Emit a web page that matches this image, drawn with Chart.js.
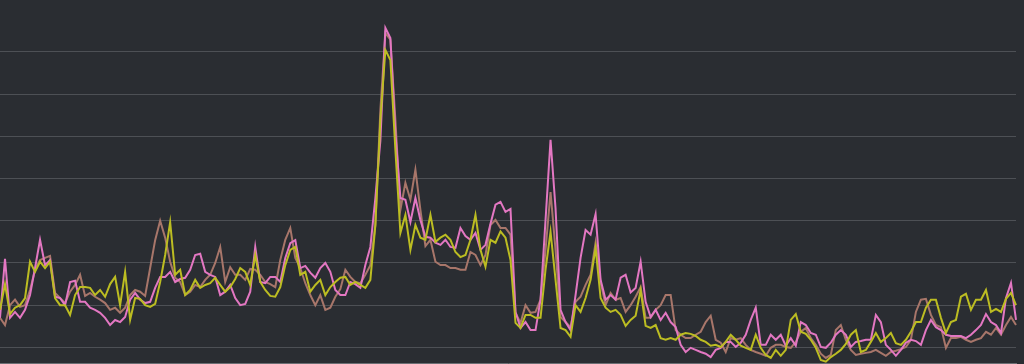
<!DOCTYPE html>
<html>
<head>
<meta charset="utf-8">
<script src="https://cdn.jsdelivr.net/npm/chart.js@4.4.1/dist/chart.umd.min.js"></script>
<style>
  html, body { margin:0; padding:0; background:#2a2d32; }
  #grafico { display:block; }
</style>
</head>
<body>
<canvas id="grafico" width="1024" height="364"></canvas>
<script>
// valores, um ponto a cada ~5px
const rosa = [
  7, 21, 7, 8.4, 7, 8.9, 12.4, 18.8, 25.5, 19.5,
  20.7, 12, 11.7, 10, 15.5, 15.8, 10.8, 10.8, 9.4, 8.9,
  8.2, 7, 5.3, 6.5, 6, 7.2, 11.3, 12.9, 11.3, 10.5,
  10.8, 14.1, 16.7, 16.7, 17.9, 15.5, 16.2, 16.5, 18.4, 21.9,
  22.2, 17.9, 17.2, 16.7, 12.4, 13.2, 14.8, 11.7, 10, 10.3,
  13.2, 23.8, 15.5, 15.2, 16.7, 16.7, 15.5, 21.2, 24.7, 25.4,
  18.8, 19.3, 17.7, 16.5, 18.8, 20, 17.9, 13.6, 12.4, 12.4,
  15.5, 15, 14.1, 19.5, 23.8, 35.4, 49, 75.7, 73.3, 50.8,
  35.4, 35, 29.7, 35.4, 30.2, 26.2, 26, 24.8, 24.3, 25.5,
  23.8, 23.6, 28.3, 26.4, 25.5, 27.1, 23.1, 24.3, 29.3, 33.8,
  34.5, 32.1, 32.8, 8.4, 4.6, 6, 4.1, 4.1, 11.3, 30.2,
  49.2, 32.9, 8.9, 6, 4.1, 12.4, 21.2, 27.8, 26.7, 31.6,
  16, 11.3, 12.4, 11.3, 16.5, 17.2, 13, 14.1, 20.3, 10.8,
  7.2, 8.9, 6.5, 8.2, 6, 4.8, 0.6, -1.1, -0.1, -0.6,
  -1.1, -1.5, -2.3, -0.6, -0.1, 1.3, 1.3, 0.1, 1.1, 3,
  6.5, 9.4, 0.6, 0.6, 3, 1.8, 3, 0.4, 2.2, 0.4,
  6, 5.3, 3.4, 3, 0.1, -0.1, 1.1, 3, 4.1, 3,
  0.1, 1.3, 1.5, 1.8, 1.8, 7.7, 6, 0.6, -0.6, -2,
  -0.6, 1.1, 1.8, 1.5, 0.6, 4.1, 6.5, 4.8, 4.1, 3,
  2.7, 2.7, 2.7, 2.2, 3, 4.1, 5.3, 7.9, 6, 5.3,
  3.4, 11.7, 15.3, 6.5
];
const marrom = [
  7, 5.3, 10, 11.3, 9.6, 10, 13.6, 18.4, 20.7, 21.2,
  21.7, 12.9, 11.7, 10.5, 13.2, 14.8, 17.2, 12.2, 12.9, 12,
  11.3, 10.5, 8.9, 9.4, 8.2, 9.4, 12.4, 13.6, 13.2, 12.2,
  18.8, 25.4, 30, 26, 20.3, 16.5, 15.5, 12.4, 13.2, 14.8,
  14.3, 16, 17.2, 20, 23.8, 15.5, 19, 17.2, 17.2, 16,
  18.6, 18.4, 17.2, 15.5, 15, 14.3, 20.7, 25.5, 28.3, 21.2,
  18.8, 15.2, 12.4, 10, 12.4, 8.9, 9.4, 12, 13.8, 18.4,
  16.7, 15.5, 15.2, 17.2, 19.5, 29, 56.3, 74.5, 72.9, 53.9,
  32.6, 39, 35, 42.1, 32.6, 24, 25.5, 20.3, 19.5, 19.5,
  18.8, 18.8, 18.4, 18.4, 22.6, 21.9, 19.5, 21.9, 29, 30.2,
  28.3, 28.3, 26.7, 8.2, 5.8, 10, 8.2, 8.4, 11.3, 23.1,
  36.8, 23.1, 7.2, 6, 4.8, 10.8, 12, 14.8, 17.2, 24.8,
  15.5, 10, 12.9, 11.3, 11.7, 8.4, 10, 12, 14.3, 7,
  7, 8.9, 10, 12.4, 12.4, 4.1, 3, 2.2, 2.2, 3,
  3.7, 6, 7.5, 1.8, 1.1, -1.1, 2.2, 1.8, 2.2, 0.6,
  -0.6, -1.1, -1.5, -2, -0.1, 0.6, 0.6, 0.1, -0.1, 1.3,
  3.7, 4.6, 2.2, 0.6, -1.5, -2.5, -1.8, 4.1, 5.3, 1.8,
  -0.6, -1.8, -1.5, -1.3, -1.1, -0.6, -1.3, -2, -1.1, -0.8,
  -0.4, 0.1, 1.8, 8.4, 11.3, 11.5, 7.7, 5.3, 4.8, -0.1,
  2.2, 2.2, 2.5, 1.8, 1.3, 1.8, 2.2, 3.7, 3, 4.6,
  3, 5.3, 7.2, 5.3
];
const amarelo = [
  8.9, 15, 7.9, 9.4, 10, 11.7, 20.3, 17.9, 20.3, 18.8,
  20.3, 11.7, 10, 10, 7.7, 12.4, 14.3, 14.3, 14.1, 12.4,
  13.6, 12, 15, 16.7, 10, 17.9, 6.5, 11.7, 11.5, 10,
  9.6, 10.3, 15.5, 21.9, 29.7, 17.2, 18.4, 12.4, 13.6, 16,
  14.1, 14.8, 15.2, 16.5, 14.8, 13.2, 14.3, 16.2, 18.8, 17.9,
  14.8, 21.9, 15.5, 13.6, 12.2, 12, 14.3, 19.5, 23.1, 23.8,
  17.2, 17.9, 13.2, 14.8, 16, 12.4, 14.3, 15.5, 16.5, 16.7,
  14.8, 15.5, 14.8, 14.1, 16, 29, 53.9, 70.5, 68.1, 46.8,
  27.1, 31.4, 23.1, 29, 26, 25.5, 31.4, 25, 26, 26.7,
  25.5, 22.6, 21.4, 21.9, 25.5, 31.4, 23.1, 19.1, 25.5, 24.8,
  27.5, 26, 20.7, 5.8, 4.6, 7.7, 7.7, 7, 7, 18.4,
  27.4, 16, 4.6, 4.1, 2.5, 10, 8.4, 11.7, 16, 23.6,
  11.7, 9.4, 8.4, 8.9, 7.7, 5.1, 6.5, 7.5, 13.6, 5.1,
  4.6, 5.3, 2.2, 1.8, 2.2, 1.8, 3, 3.4, 3.2, 2.7,
  1.8, 1.3, 0.4, 0.6, 0.1, 1.3, 3, 1.8, 0.4, -0.1,
  -0.6, 3, -0.1, -1.8, -2.5, -0.6, -2, -0.6, 6.5, 7.9,
  3.7, 3.2, 1.8, -0.1, -3, -3.4, -2.3, -1.5, -0.6, 0.8,
  3, 4.1, -1.1, -0.6, 1.3, 3.4, 1.3, 2.2, 3.4, 1,
  0.6, 1.8, 3.7, 6, 6, 9.4, 11.3, 11.3, 7, 3.4,
  6, 6.5, 12, 12.7, 8.9, 11.3, 11.3, 13.6, 8.4, 9.1,
  8.4, 11.5, 12.9, 10
];
const rotulos = rosa.map((_, i) => i);

const canvas = document.getElementById("grafico");
new Chart(canvas, {
  type: 'line',
  data: {
    labels: rotulos,
    datasets: [
      { data: amarelo, borderColor: '#bcbd22', order: 0 },
      { data: rosa, borderColor: '#e377c2', order: 1 },
      { data: marrom, borderColor: '#a8766a', order: 2 }
    ]
  },
  options: {
    responsive: false,
    animation: false,
    layout: { padding: { left: 0, right: 8, top: 14, bottom: 1 } },
    elements: {
      line: { borderWidth: 2, tension: 0 },
      point: { radius: 0 }
    },
    plugins: { legend: { display: false }, tooltip: { enabled: false } },
    scales: {
      x: {
        offset: false,
        ticks: { display: false },
        grid: { display: false, drawTicks: false },
        border: { display: true, color: '#6b6e73', width: 1 }
      },
      y: {
        min: -3.7,
        max: 79,
        ticks: { display: false, stepSize: 10, includeBounds: false },
        grid: { color: '#4d5055', lineWidth: 1, drawTicks: false },
        border: { display: false }
      }
    }
  }
});
</script>
</body>
</html>
